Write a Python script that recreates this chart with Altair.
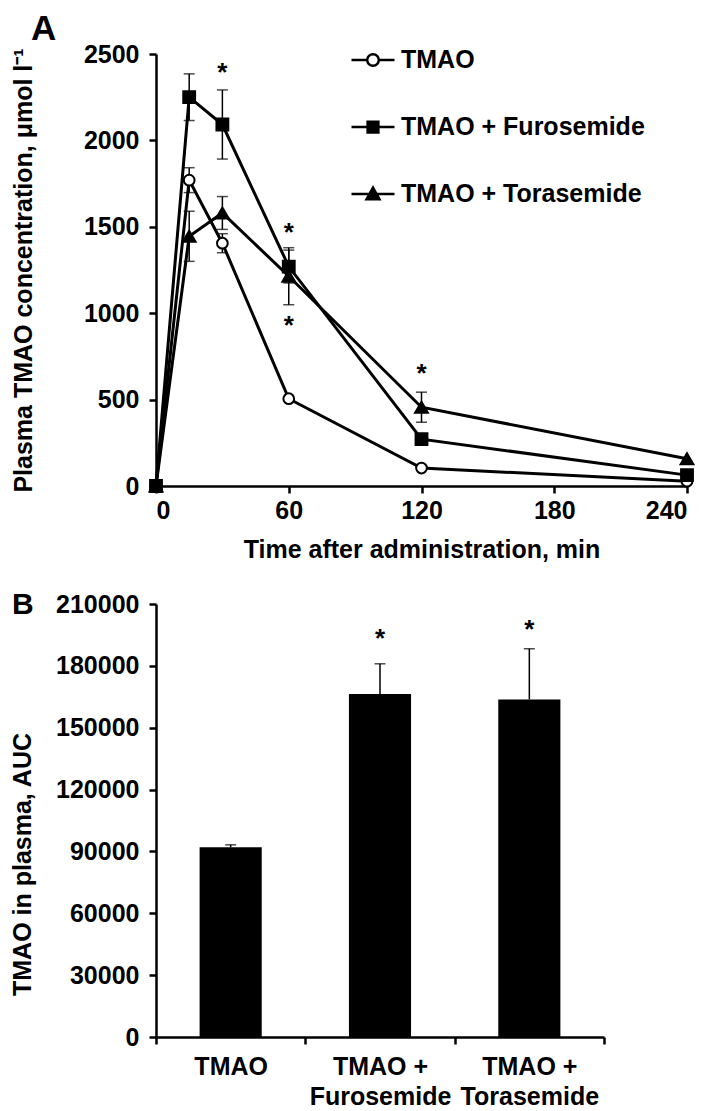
import altair as alt
import pandas as pd

FONT = "Liberation Sans"

# ---------------- Panel A data ----------------
groups = ["TMAO", "TMAO + Furosemide", "TMAO + Torasemide"]
times = [0, 15, 30, 60, 120, 240]
tmao_mean = [0, 1770, 1405, 505, 104, 28]
tmao_err = [0, 72, 55, 0, 0, 0]
furo_mean = [0, 2250, 2092, 1270, 271, 63]
furo_err = [0, 135, 200, 95, 0, 0]
tora_mean = [0, 1445, 1580, 1214, 456, 158]
tora_err = [0, 145, 95, 165, 87, 0]

star_a_time = [30, 60, 60, 120]
star_a_value = [2408, 1484, 945, 666]

y_a_ticks = [0, 500, 1000, 1500, 2000, 2500]
x_a_ticks = [0, 60, 120, 180, 240]

# ---------------- Panel B data ----------------
auc_mean = [92000, 166400, 163700]
auc_err = [1200, 14600, 24600]
star_b_group = ["TMAO + Furosemide", "TMAO + Torasemide"]
star_b_value = [194600, 199000]
y_b_ticks = [0, 30000, 60000, 90000, 120000, 150000, 180000, 210000]

# ---------------- tables ----------------
rows = []
for g, means, errs in zip(groups, [tmao_mean, furo_mean, tora_mean], [tmao_err, furo_err, tora_err]):
    for t, m, e in zip(times, means, errs):
        rows.append({"group": g, "time": t, "value": m, "err": e, "lo": m - e, "hi": m + e})
df_a = pd.DataFrame(rows)
df_a_err = df_a[df_a["err"] > 0]
df_star_a = pd.DataFrame({"time": star_a_time, "value": star_a_value, "s": ["*"] * len(star_a_time)})

df_b = pd.DataFrame({"group": groups, "auc": auc_mean, "err": auc_err,
                     "hi": [m + e for m, e in zip(auc_mean, auc_err)]})
df_star_b = pd.DataFrame({"group": star_b_group, "auc": star_b_value, "s": ["*"] * len(star_b_group)})

# ---------------- Panel A ----------------
xa_axis = alt.Axis(values=x_a_ticks, title="Time after administration, min",
                   titleFontSize=25, titlePadding=14, labelPadding=5)
ya_axis = alt.Axis(values=y_a_ticks, format="d", title="Plasma TMAO concentration, μmol l⁻¹",
                   titleFontSize=25, titlePadding=47, labelPadding=10)
xa_scale = alt.Scale(domain=[0, 240], nice=False, zero=False)
ya_scale = alt.Scale(domain=[0, 2500], nice=False)

base_a = alt.Chart(df_a)

lines = base_a.mark_line(color="black", strokeWidth=3).encode(
    x=alt.X("time:Q", scale=xa_scale, axis=xa_axis),
    y=alt.Y("value:Q", scale=ya_scale, axis=ya_axis),
    detail="group:N",
)

err_rules = alt.Chart(df_a_err).mark_rule(color="black", strokeWidth=1.5).encode(
    x=alt.X("time:Q", scale=xa_scale, axis=xa_axis),
    y=alt.Y("lo:Q", scale=ya_scale, axis=ya_axis),
    y2="hi:Q",
)
err_top = alt.Chart(df_a_err).mark_tick(color="black", orient="horizontal", size=11, thickness=1.5).encode(
    x=alt.X("time:Q", scale=xa_scale, axis=xa_axis),
    y=alt.Y("hi:Q", scale=ya_scale, axis=ya_axis),
)
err_bot = alt.Chart(df_a_err).mark_tick(color="black", orient="horizontal", size=11, thickness=1.5).encode(
    x=alt.X("time:Q", scale=xa_scale, axis=xa_axis),
    y=alt.Y("lo:Q", scale=ya_scale, axis=ya_axis),
)

points = base_a.mark_point(filled=True, stroke="black", strokeWidth=2, opacity=1).encode(
    x=alt.X("time:Q", scale=xa_scale, axis=xa_axis),
    y=alt.Y("value:Q", scale=ya_scale, axis=ya_axis),
    shape=alt.Shape("group:N", scale=alt.Scale(domain=groups, range=["circle", "square", "triangle-up"]), legend=None),
    fill=alt.Fill("group:N", scale=alt.Scale(domain=groups, range=["white", "black", "black"]), legend=None),
    size=alt.Size("group:N", scale=alt.Scale(domain=groups, range=[115, 165, 205]), legend=None),
)

circle_path = ("M-1,0H-0.27M0.27,0H1"
               "M0.27,0A0.27,0.27 0 1,1 -0.27,0A0.27,0.27 0 1,1 0.27,0Z"
               "M0.27,0A0.27,0.27 0 1,0 -0.27,0A0.27,0.27 0 1,0 0.27,0Z")
square_path = "M-1,0H1M-0.25,-0.25H0.25V0.25H-0.25Z"
tri_path = "M-1,0H1M0,-0.3L0.3,0.24H-0.3Z"

legend_layer = base_a.mark_point(filled=False, opacity=0, color="black", strokeWidth=2.5).encode(
    x=alt.X("time:Q", scale=xa_scale, axis=xa_axis),
    y=alt.Y("value:Q", scale=ya_scale, axis=ya_axis),
    shape=alt.Shape("group:N", scale=alt.Scale(domain=groups, range=[circle_path, square_path, tri_path]),
                    legend=alt.Legend(title=None, orient="none", legendX=194, legendY=-17,
                                      symbolSize=1849, symbolOpacity=1, symbolStrokeWidth=2.5,
                                      labelFont=FONT, labelFontSize=25, labelFontWeight="bold",
                                      labelColor="black", labelOffset=5, rowPadding=31,
                                      labelLimit=400, padding=0, offset=0)),
    fill=alt.value("black"),
)

stars_a = alt.Chart(df_star_a).mark_text(font=FONT, fontSize=26, fontWeight="bold", color="black",
                                         baseline="middle", dy=3).encode(
    x=alt.X("time:Q", scale=xa_scale, axis=xa_axis),
    y=alt.Y("value:Q", scale=ya_scale, axis=ya_axis),
    text="s:N",
)

letter_a = alt.Chart(pd.DataFrame({"t": ["A"]})).mark_text(
    font=FONT, fontSize=35, fontWeight="bold", color="black", align="left", baseline="alphabetic"
).encode(text="t:N", x=alt.value(-125), y=alt.value(-14))

chart_a = alt.layer(lines, err_rules, err_top, err_bot, points, legend_layer, stars_a, letter_a).resolve_scale(
    shape="independent"
).properties(width=531, height=432)

# ---------------- Panel B ----------------
xb = alt.X("group:N", sort=groups, scale=alt.Scale(domain=groups, paddingInner=0, paddingOuter=0),
           axis=alt.Axis(title=None, tickBand="extent", labelAngle=0, labelPadding=10, labelLineHeight=30,
                         labelExpr="isValid(datum.value) ? (datum.value == 'TMAO' ? datum.value : ['TMAO +', replace(datum.value, 'TMAO + ', '')]) : ''",
                         labelFontSize=25, labelLimit=400))
yb_scale = alt.Scale(domain=[0, 210000], nice=False)
yb_axis = alt.Axis(values=y_b_ticks, format="d", title="TMAO in plasma, AUC", titleFontSize=25,
                   titlePadding=20, labelPadding=10, titleY=260)

bars = alt.Chart(df_b).mark_bar(color="black", width={"band": 0.416}).encode(
    x=xb, y=alt.Y("auc:Q", scale=yb_scale, axis=yb_axis)
)
b_rules = alt.Chart(df_b).mark_rule(color="black", strokeWidth=1.5).encode(
    x=xb, y=alt.Y("auc:Q", scale=yb_scale, axis=yb_axis), y2="hi:Q"
)
b_caps = alt.Chart(df_b).mark_tick(color="black", orient="horizontal", size=11, thickness=1.5).encode(
    x=xb, y=alt.Y("hi:Q", scale=yb_scale, axis=yb_axis)
)
stars_b = alt.Chart(df_star_b).mark_text(font=FONT, fontSize=26, fontWeight="bold", color="black",
                                         baseline="middle", dy=3).encode(
    x=xb, y=alt.Y("auc:Q", scale=yb_scale, axis=yb_axis), text="s:N"
)
letter_b = alt.Chart(pd.DataFrame({"t": ["B"]})).mark_text(
    font=FONT, fontSize=30, fontWeight="bold", color="black", align="left", baseline="alphabetic"
).encode(text="t:N", x=alt.value(-144), y=alt.value(10))

chart_b = alt.layer(bars, b_rules, b_caps, stars_b, letter_b).properties(width=448, height=433)

chart = alt.vconcat(chart_a, chart_b, spacing=28).properties(
    padding={"left": 2, "top": 4, "right": 0, "bottom": 0}
).configure_view(
    stroke=None
).configure_axis(
    domainColor="black", domainWidth=2.5, tickColor="black", tickWidth=2.5, tickSize=7,
    labelFont=FONT, labelFontSize=25, labelFontWeight="bold", labelColor="black",
    titleFont=FONT, titleFontWeight="bold", titleColor="black", grid=False,
)

chart.save("out.html", embed_options={"renderer": "svg", "actions": False})
